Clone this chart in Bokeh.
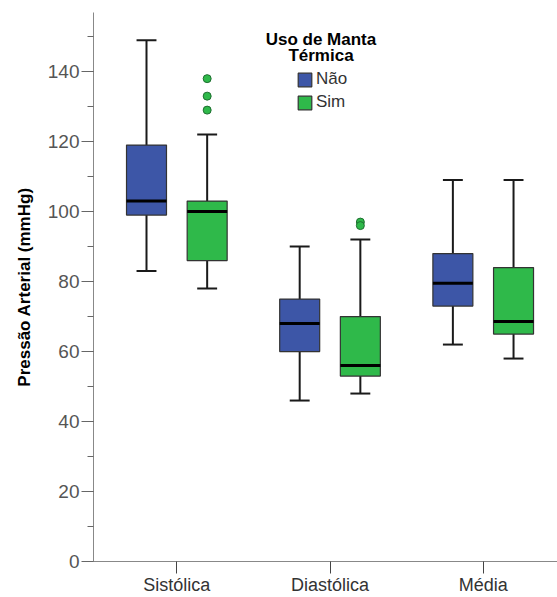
from bokeh.plotting import figure
from bokeh.models import (Range1d, SingleIntervalTicker, FixedTicker, Legend,
                          LegendItem, Label, ColumnDataSource)
from bokeh.embed import file_html
from bokeh.resources import INLINE

categories = ["Sistólica", "Diastólica", "Média"]
groups = ["Não", "Sim"]

nao_low = [83, 46, 62]
nao_q1 = [99, 60, 73]
nao_med = [103, 68, 79.5]
nao_q3 = [119, 75, 88]
nao_high = [149, 90, 109]

sim_low = [78, 48, 58]
sim_q1 = [86, 53, 65]
sim_med = [100, 56, 68.6]
sim_q3 = [103, 70, 84]
sim_high = [122, 92, 109]

sim_out_cat = ["Sistólica", "Sistólica", "Sistólica", "Diastólica", "Diastólica"]
sim_out_val = [138, 133, 129, 97, 96]

legend_title = ["Uso de Manta", "Térmica"]

colors = {"Não": "#3d56a7", "Sim": "#2fb94a"}
offsets = {"Não": -0.198, "Sim": 0.198}
BOX_W = 0.261
CAP_W = 0.13
FONT = "Liberation Sans"

p = figure(width=557, height=597, x_range=Range1d(0.456, 3.485),
           y_range=Range1d(0, 156.9), output_backend="svg",
           toolbar_location=None, min_border_left=93, min_border_right=0,
           min_border_top=12, min_border_bottom=0)
p.grid.visible = False
p.outline_line_color = None
p.background_fill_color = "white"

stats = {
    "Não": (nao_low, nao_q1, nao_med, nao_q3, nao_high),
    "Sim": (sim_low, sim_q1, sim_med, sim_q3, sim_high),
}

box_renderers = {}
for g in groups:
    low, q1, med, q3, high = stats[g]
    xs = [i + 1 + offsets[g] for i in range(len(categories))]
    src = ColumnDataSource(dict(x=xs, low=low, q1=q1, med=med, q3=q3, high=high,
                                cl=[x - CAP_W / 2 for x in xs],
                                cr=[x + CAP_W / 2 for x in xs],
                                bl=[x - BOX_W / 2 for x in xs],
                                br=[x + BOX_W / 2 for x in xs]))
    p.segment(x0="x", y0="low", x1="x", y1="high", source=src,
              line_color="#1a1a1a", line_width=2)
    p.segment(x0="cl", y0="low", x1="cr", y1="low", source=src,
              line_color="#1a1a1a", line_width=2)
    p.segment(x0="cl", y0="high", x1="cr", y1="high", source=src,
              line_color="#1a1a1a", line_width=2)
    r = p.vbar(x="x", width=BOX_W, bottom="q1", top="q3", source=src,
               fill_color=colors[g], line_color="#333333", line_width=1.2)
    box_renderers[g] = r
    p.segment(x0="bl", y0="med", x1="br", y1="med", source=src,
              line_color="black", line_width=3)

out_x = [categories.index(c) + 1 + offsets["Sim"] for c in sim_out_cat]
p.scatter(out_x, sim_out_val, size=8, fill_color=colors["Sim"],
          line_color="#1e6e30", line_width=1)

# axes
yax = p.yaxis[0]
yax.ticker = SingleIntervalTicker(interval=20, num_minor_ticks=2)
yax.axis_label = "Pressão Arterial (mmHg)"
yax.axis_label_text_font = FONT
yax.axis_label_text_font_style = "bold"
yax.axis_label_text_font_size = "17px"
yax.axis_label_text_color = "black"
yax.axis_label_standoff = 11
yax.major_label_text_font = FONT
yax.major_label_text_font_size = "19px"
yax.major_label_text_color = "#555555"
yax.major_label_standoff = 2
yax.major_tick_in = 0
yax.major_tick_out = 12
yax.minor_tick_in = 0
yax.minor_tick_out = 6
yax.axis_line_color = "#888888"
yax.major_tick_line_color = "#666666"
yax.minor_tick_line_color = "#666666"

xax = p.xaxis[0]
xax.ticker = FixedTicker(ticks=[i + 1 for i in range(len(categories))])
xax.major_label_overrides = {i + 1: c for i, c in enumerate(categories)}
xax.major_label_text_font = FONT
xax.major_label_text_font_size = "18px"
xax.major_label_text_color = "#333333"
xax.major_label_standoff = 1
xax.major_tick_in = 0
xax.major_tick_out = 12
xax.minor_tick_line_color = None
xax.axis_line_color = "#888888"
xax.major_tick_line_color = "#444444"

legend = Legend(items=[LegendItem(label=g, renderers=[box_renderers[g]]) for g in groups],
                location=(203, 449), orientation="vertical",
                glyph_width=17, glyph_height=17, label_height=17,
                label_standoff=3, spacing=3, padding=0, margin=0,
                border_line_color=None, background_fill_alpha=0,
                label_text_font=FONT, label_text_font_size="17px",
                label_text_color="#333333")
p.add_layout(legend)

for txt, yy in zip(legend_title, [149.3, 144.5]):
    p.add_layout(Label(x=1.941, y=yy, text=txt, text_align="center",
                       text_baseline="alphabetic", text_font=FONT,
                       text_font_style="bold", text_font_size="17px",
                       text_color="black"))

open("out.html", "w").write(file_html(p, INLINE))
